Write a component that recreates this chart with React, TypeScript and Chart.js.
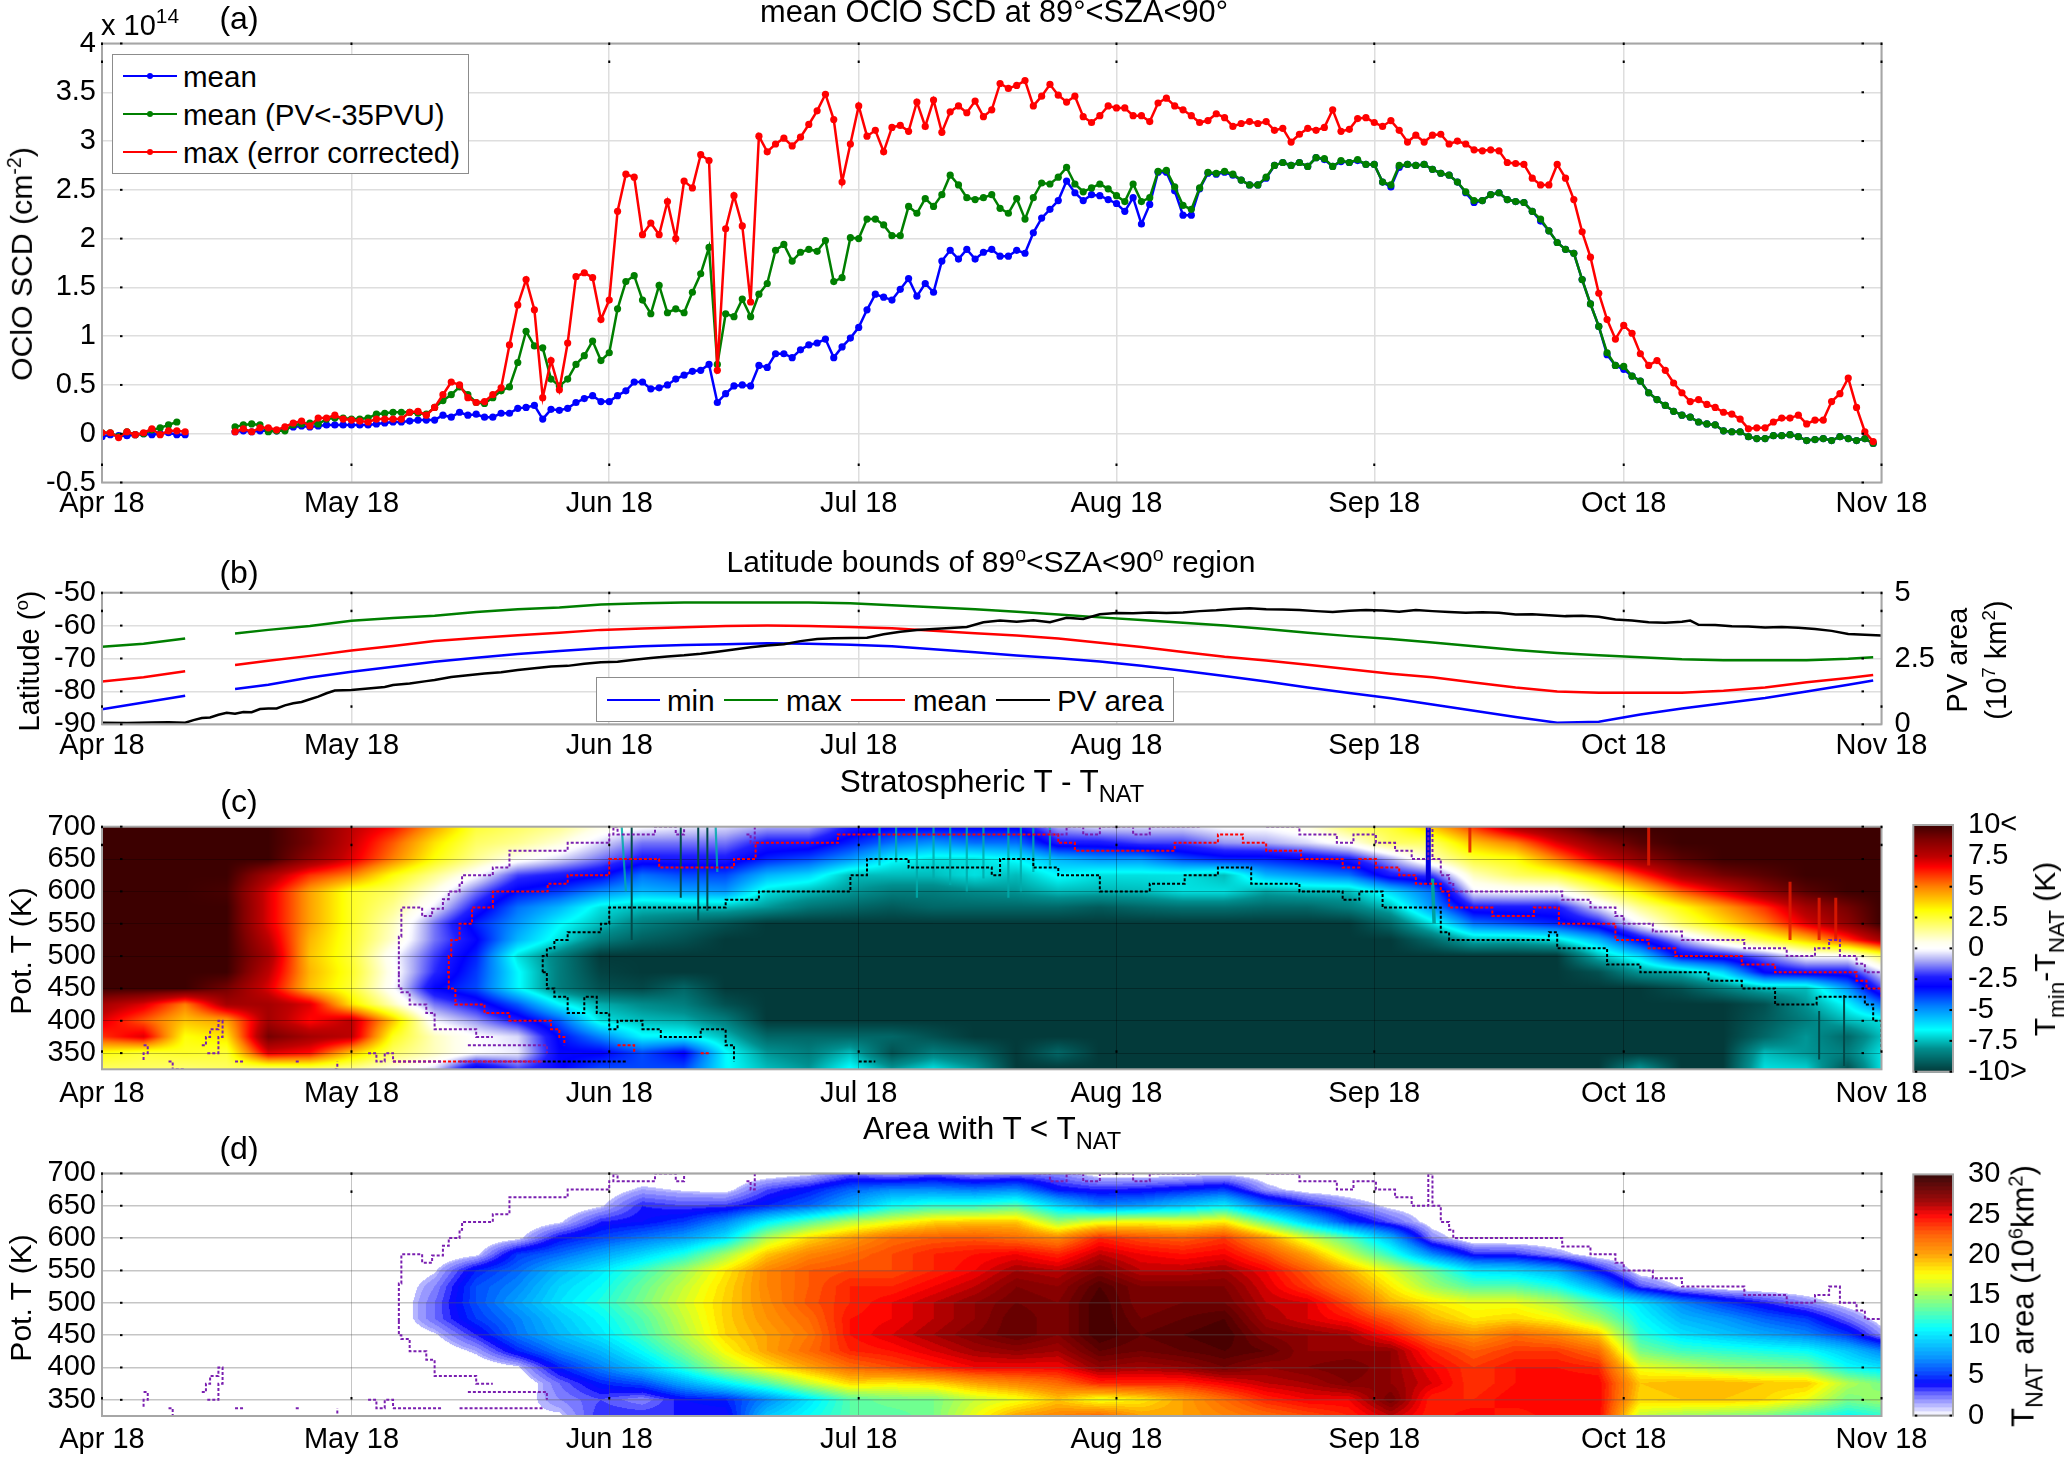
import React, { useEffect, useRef } from 'react';
import { Chart, registerables } from 'chart.js';
Chart.register(...registerables);

const FONT = '"Liberation Sans", Arial, sans-serif';
const N = null;

// ---------- shared axis labels
const monthDays = [0, 30, 61, 91, 122, 153, 183, 214];
const monthLabels = ['Apr 18', 'May 18', 'Jun 18', 'Jul 18', 'Aug 18', 'Sep 18', 'Oct 18', 'Nov 18'];
const thetaTicks = [350, 400, 450, 500, 550, 600, 650, 700];

// ---------- panel (a): one value per day from Apr 18
const scdMean = [
  -.03, -.01, -.02, -.02, -.01, 0, -.01, 0, .01, -.01, -.01, N, N, N, N, N,
  .02, .03, .02, .03, .03, .03, .05, .07, .08, .07, .08, .09, .09, .09,
  .09, .09, .09, .10, .11, .12, .12, .13, .14, .14,
  .14, .19, .17, .22, .19, .20, .17, .17, .21, .21,
  .26, .27, .29, .15, .25, .24, .26, .32, .36, .39,
  .33, .33, .39, .44, .53, .53, .46, .47, .50, .56,
  .60, .64, .65, .71, .32, .41, .49, .50, .49, .70,
  .68, .82, .82, .78, .86, .91, .93, .97, .78, .89,
  .98, 1.09, 1.27, 1.43, 1.40, 1.37, 1.48, 1.59, 1.41, 1.54,
  1.45, 1.77, 1.88, 1.79, 1.89, 1.79, 1.86, 1.89, 1.82, 1.82,
  1.88, 1.85, 2.06, 2.21, 2.30, 2.39, 2.59, 2.47, 2.39, 2.45,
  2.44, 2.40, 2.36, 2.28, 2.42, 2.15, 2.35, 2.68, 2.68, 2.49,
  2.24, 2.24, 2.51, 2.67, 2.66, 2.68, 2.65, 2.60, 2.55, 2.55,
  2.62, 2.75, 2.78, 2.75, 2.78, 2.74, 2.83, 2.81, 2.74, 2.79,
  2.78, 2.80, 2.76, 2.76, 2.58, 2.53, 2.73, 2.76, 2.75, 2.76,
  2.71, 2.67, 2.65, 2.58, 2.47, 2.37, 2.39, 2.45, 2.47, 2.40,
  2.38, 2.37, 2.28, 2.18, 2.08, 1.96, 1.89, 1.85, 1.58, 1.33,
  1.10, .81, .70, .66, .59, .54, .42, .35, .29, .23,
  .19, .17, .12, .10, .09, .03, .02, .02, -.03, -.05,
  -.05, -.02, -.02, -.01, -.03, -.07, -.06, -.05, -.07, -.03,
  -.05, -.07, -.05, -.10,
];
const scdMeanPv = [
  .01, .01, -.03, .02, -.01, 0, .04, .06, .09, .12, N, N, N, N, N, N,
  .07, .09, .10, .09, .02, .03, .03, .09, .10, .11, .10, .15, .16, .16,
  .15, .15, .16, .20, .21, .22, .22, .22, .21, .20,
  .27, .34, .40, .48, .40, .32, .31, .37, .44, .48,
  .73, 1.05, .90, .88, .56, .49, .56, .71, .80, .95,
  .75, .83, 1.28, 1.56, 1.62, 1.37, 1.23, 1.52, 1.24, 1.28,
  1.24, 1.45, 1.64, 1.91, .71, 1.23, 1.20, 1.38, 1.20, 1.43,
  1.54, 1.88, 1.94, 1.77, 1.86, 1.89, 1.87, 1.98, 1.56, 1.60,
  2.01, 2.00, 2.20, 2.20, 2.14, 2.03, 2.03, 2.33, 2.26, 2.41,
  2.33, 2.45, 2.65, 2.55, 2.42, 2.40, 2.42, 2.45, 2.31, 2.26,
  2.41, 2.20, 2.42, 2.57, 2.56, 2.63, 2.73, 2.56, 2.48, 2.52,
  2.56, 2.51, 2.44, 2.38, 2.56, 2.38, 2.42, 2.69, 2.70, 2.53,
  2.34, 2.30, 2.52, 2.68, 2.67, 2.69, 2.66, 2.60, 2.55, 2.55,
  2.63, 2.75, 2.78, 2.75, 2.78, 2.74, 2.83, 2.82, 2.74, 2.80,
  2.78, 2.81, 2.76, 2.76, 2.58, 2.55, 2.75, 2.76, 2.75, 2.76,
  2.71, 2.67, 2.65, 2.58, 2.48, 2.39, 2.39, 2.45, 2.47, 2.40,
  2.38, 2.37, 2.28, 2.20, 2.08, 1.96, 1.89, 1.85, 1.58, 1.33,
  1.10, .83, .70, .69, .59, .54, .42, .35, .29, .23,
  .19, .17, .12, .10, .09, .03, .02, .02, -.03, -.05,
  -.05, -.02, -.02, -.01, -.03, -.07, -.06, -.05, -.07, -.03,
  -.05, -.07, -.05, -.10,
];
const scdMax = [
  .01, .01, -.04, .02, -.01, .01, .05, -.01, .03, .03, .02, N, N, N, N, N,
  .02, .05, .02, .06, .06, .04, .07, .11, .13, .08, .16, .16, .19, .15,
  .14, .13, .12, .15, .15, .15, .15, .22, .23, .19,
  .27, .40, .53, .50, .37, .32, .33, .40, .47, .91,
  1.32, 1.58, 1.27, .37, .75, .45, .93, 1.61, 1.65, 1.60,
  1.17, 1.37, 2.28, 2.66, 2.63, 2.04, 2.16, 2.04, 2.38, 2.0,
  2.59, 2.52, 2.86, 2.80, .65, 2.10, 2.44, 2.13, 1.35, 3.05,
  2.89, 2.97, 3.03, 2.95, 3.04, 3.17, 3.31, 3.48, 3.22, 2.58,
  2.97, 3.36, 3.05, 3.11, 2.89, 3.14, 3.16, 3.10, 3.40, 3.15,
  3.42, 3.09, 3.30, 3.36, 3.29, 3.41, 3.25, 3.32, 3.59, 3.54,
  3.57, 3.62, 3.36, 3.46, 3.58, 3.47, 3.40, 3.46, 3.25, 3.19,
  3.26, 3.36, 3.34, 3.34, 3.26, 3.26, 3.20, 3.39, 3.44, 3.36,
  3.32, 3.26, 3.19, 3.21, 3.28, 3.24, 3.15, 3.18, 3.20, 3.18,
  3.20, 3.11, 3.13, 2.99, 3.07, 3.13, 3.11, 3.14, 3.32, 3.10,
  3.12, 3.23, 3.24, 3.19, 3.15, 3.21, 3.11, 2.99, 3.06, 2.99,
  3.06, 3.07, 2.97, 3.00, 2.97, 2.91, 2.90, 2.91, 2.90, 2.78,
  2.77, 2.76, 2.62, 2.55, 2.55, 2.76, 2.62, 2.40, 2.07, 1.81,
  1.44, 1.17, .97, 1.11, 1.03, .82, .70, .75, .65, .52,
  .42, .33, .35, .30, .27, .22, .20, .15, .05, .06,
  .06, .12, .16, .16, .19, .10, .14, .14, .33, .41,
  .57, .27, .02, -.08,
];

// ---------- panel (b)
const latDays = [0, 5, 10, 13, 16, 20, 25, 30, 35, 40, 45, 50, 55, 60, 65, 70, 75, 80, 85, 90, 95, 100, 105, 110, 115, 120, 125, 130, 135, 140, 145, 150, 155, 160, 165, 170, 175, 180, 185, 190, 195, 200, 205, 210, 213];
const latMin = [-85.4, -83.4, -81.3, N, -79.3, -78, -75.8, -74, -72.5, -71, -69.8, -68.6, -67.7, -66.9, -66.3, -65.9, -65.7, -65.4, -65.5, -65.8, -66.3, -67.2, -68.1, -69.1, -69.9, -70.9, -72.2, -73.7, -75.3, -77, -78.8, -80.5, -82.1, -84, -85.9, -87.8, -89.5, -89.2, -87, -85.2, -83.6, -82, -80, -78, -76.7];
const latMax = [-66.4, -65.5, -63.9, N, -62.4, -61.3, -60.1, -58.5, -57.7, -57, -55.9, -55, -54.5, -53.6, -53.2, -53, -53, -53, -53, -53.2, -53.8, -54.4, -55, -55.8, -56.6, -57.5, -58.3, -59.1, -60, -61, -62.2, -63.2, -64.1, -65.1, -66.3, -67.4, -68.3, -69, -69.6, -70.2, -70.5, -70.5, -70.5, -70.1, -69.6];
const latMean = [-77, -75.7, -73.9, N, -72, -70.7, -69.2, -67.6, -66.2, -64.7, -63.8, -62.9, -62.2, -61.3, -60.9, -60.5, -60.1, -60, -60.1, -60.4, -60.8, -61.6, -62.3, -63, -63.9, -65.2, -66.5, -68, -69.5, -70.6, -71.9, -73.3, -74.6, -75.7, -77.3, -78.8, -80, -80.4, -80.4, -80.4, -79.8, -78.8, -77.2, -75.9, -75];
const pvDays = [0, 3, 6, 8, 10, 11, 12, 13, 14, 15, 16, 17, 18, 19, 20, 21, 22, 23, 24, 25, 26, 27, 28, 30, 32, 34, 35, 37, 39, 40, 42, 44, 46, 48, 50, 52, 54, 56, 58, 60, 62, 64, 66, 68, 70, 72, 74, 76, 78, 80, 82, 84, 86, 88, 90, 92, 94, 96, 98, 100, 102, 104, 106, 108, 110, 112, 114, 116, 118, 120, 122, 124, 126, 128, 130, 132, 134, 136, 138, 140, 142, 144, 146, 148, 150, 152, 154, 156, 158, 160, 162, 164, 166, 168, 170, 172, 174, 176, 178, 180, 182, 184, 186, 188, 190, 191, 192, 194, 196, 198, 200, 202, 204, 206, 208, 210, 212, 214];
const pvArea = [.06, .05, .07, .08, .06, .16, .24, .26, .36, .44, .40, .47, .46, .58, .60, .60, .72, .8, .85, .95, 1.05, 1.18, 1.28, 1.30, 1.36, 1.42, 1.49, 1.55, 1.64, 1.68, 1.80, 1.86, 1.93, 1.98, 2.06, 2.13, 2.2, 2.22, 2.3, 2.36, 2.38, 2.45, 2.52, 2.58, 2.62, 2.68, 2.76, 2.84, 2.93, 2.99, 3.04, 3.16, 3.24, 3.27, 3.28, 3.29, 3.42, 3.52, 3.58, 3.62, 3.66, 3.70, 3.88, 3.94, 3.9, 3.95, 3.88, 4.05, 4.0, 4.18, 4.23, 4.22, 4.25, 4.23, 4.25, 4.3, 4.33, 4.38, 4.41, 4.37, 4.36, 4.34, 4.3, 4.27, 4.31, 4.34, 4.32, 4.28, 4.34, 4.3, 4.27, 4.24, 4.26, 4.24, 4.17, 4.18, 4.14, 4.11, 4.12, 4.09, 3.98, 3.94, 3.88, 3.86, 3.9, 3.94, 3.78, 3.77, 3.73, 3.72, 3.68, 3.7, 3.67, 3.62, 3.55, 3.43, 3.4, 3.37];

// ---------- panels (c) and (d): grid values, one row per potential temperature
const gridDays = [0, 5, 10, 15, 20, 25, 30, 35, 40, 45, 50, 55, 60, 65, 70, 75, 80, 85, 90, 95, 100, 105, 110, 115, 120, 125, 130, 135, 140, 145, 150, 155, 160, 165, 170, 175, 180, 185, 190, 195, 200, 205, 210, 214];
const gridTheta = [325, 350, 375, 400, 425, 450, 475, 500, 525, 550, 575, 600, 625, 650, 675, 700];

const t700 = [10, 10, 10, 10, 10, 9, 7.5, 6.5, 4.5, 2.5, 2, 1.5, .5, 0, -.3, -.5, -1, -1, -2.5, -3, -3, -3, -3, -1, -.5, -.5, -.5, 0, 0, .5, 2, 2.5, 4, 6, 8, 9, 10, 10, 10, 10, 10, 10, 10, 10];
const t675 = [10, 10, 10, 10, 10, 9, 7.3, 5.5, 3.5, 2, 1.5, .7, -.5, -1.5, -1.5, -1.5, -2.5, -2.5, -3.5, -4.5, -5, -4.5, -4.5, -2.5, -2.5, -2, -2, -1.2, -1, -.5, .3, 2, 2, 4, 5, 7, 8.5, 9.5, 10, 10, 10, 10, 10, 10];
const t650 = [10, 10, 10, 10, 10, 8.5, 7, 5, 3, 1.5, .3, -.5, -1.5, -2.5, -2.5, -2.5, -3.5, -4, -5, -6.5, -7, -7, -6.5, -5.5, -5, -5, -4, -3.5, -3.5, -3, -2.5, -1, 1, 2.5, 3, 5, 7, 8.5, 9.5, 10, 10, 10, 10, 10];
const t625 = [10, 10, 10, 10, 8, 6, 5, 3, 1.5, 0, -2, -2.5, -3, -4.5, -4, -4, -5.5, -6, -7.5, -7.5, -7.5, -7, -7.5, -6.5, -7, -7, -7, -7.5, -5.5, -5, -4.5, -2.5, -2, 1, 2, 2.5, 4, 6, 8, 9, 9.5, 10, 10, 10];
const t600 = [10, 10, 10, 9.8, 7, 4.5, 2.7, 2, .5, -1.5, -3.2, -3.8, -4.8, -5.5, -5.2, -5, -7, -7.5, -8, -8.5, -8.5, -8.2, -8, -7.5, -7.6, -7.5, -7, -7, -7.8, -7.5, -7.5, -6, -4.5, -.2, 0, 0, 1.8, 3.5, 5.5, 7, 8.5, 9.5, 10, 10];
const t575 = [10, 10, 10, 10, 7, 4.5, 2.7, 1.5, -.3, -2.5, -4.5, -5.5, -7, -7.5, -7.5, -7.5, -8, -8.7, -9, -9.3, -9, -9, -9, -9, -9.3, -9, -8.8, -8.8, -9, -9, -8.5, -7.5, -5, -2.5, -2.5, -2.5, -.5, 1.5, 3, 4.5, 6, 8, 9, 10];
const t550 = [10, 10, 10, 10, 7, 4.5, 2.7, 1, -1.5, -3.5, -5, -6.5, -7.5, -8.5, -9, -9.5, -10, -10, -10, -10, -10, -10, -10, -10, -10, -10, -10, -10, -10, -10, -10, -9, -7, -4.5, -4, -3.5, -2.5, 0, 2, 3.5, 5, 7, 8.5, 10];
const t525 = [10, 10, 10, 10, 7.5, 4.2, 2.6, .8, -1.5, -3, -5.5, -7, -8.5, -9.2, -9.5, -10, -10, -10, -10, -10, -10, -10, -10, -10, -10, -10, -10, -10, -10, -10, -10, -10, -9, -7.5, -7.5, -7, -5.5, -3, -1, 1, 2.5, 4, 6, 8];
const t500 = [10, 10, 10, 10, 8, 4, 2.5, 0, -2, -3.5, -7, -8.5, -10, -10, -10, -10, -10, -10, -10, -10, -10, -10, -10, -10, -10, -10, -10, -10, -10, -10, -10, -10, -10, -10, -10, -10, -7.5, -6, -3, -2.5, -1.5, 0, 0, 2];
const t475 = [10, 10, 10, 10, 7.5, 4.2, 2.7, .2, -2.2, -3.8, -6.5, -8.5, -9.8, -10, -10, -10, -10, -10, -10, -10, -10, -10, -10, -10, -10, -10, -10, -10, -10, -10, -10, -10, -10, -10, -10, -10, -9.5, -8, -7.5, -6, -3, -2.5, -2.5, -.5];
const t450 = [10, 10, 10, 9, 7, 4, 2.5, 0, -3, -4, -6.5, -8.5, -9.5, -9.7, -9, -10, -10, -10, -10, -10, -10, -10, -10, -10, -10, -10, -10, -10, -10, -10, -10, -10, -10, -10, -10, -10, -10, -10, -9.5, -8.5, -7.5, -7.5, -5, -2];
const t425 = [8, 7, 5, 8, 8, 7, 3.5, 1, -1.5, -2.5, -4.2, -6.5, -7.7, -8.2, -8.5, -9.5, -10, -10, -10, -10, -10, -10, -10, -10, -10, -10, -10, -10, -10, -10, -10, -10, -10, -10, -10, -10, -10, -10, -10, -10, -9.5, -8, -6.5, -4.5];
const t400 = [7, 5.5, 4, 4.5, 8, 6.5, 7.5, 4, -.2, -1.2, -2.5, -4.2, -7, -7.5, -7.7, -8.5, -10, -10, -10, -10, -10, -10, -10, -10, -10, -10, -10, -10, -10, -10, -10, -10, -10, -10, -10, -10, -10, -10, -10, -10, -9.3, -8.5, -7.5, -7];
const t375 = [6, 7, 3, 3.5, 9, 8, 7.5, 2.8, 1, 0, -.5, -3.2, -4.8, -6.5, -6.5, -7.5, -9, -9, -9, -9, -9.5, -10, -10, -10, -10, -10, -10, -10, -10, -10, -10, -10, -10, -10, -10, -10, -10, -10, -10, -10, -9, -8, -9, -7.5];
const t350 = [3, 2.5, 2.7, 2.5, 7, 6.5, 4, 2, 1, 0, -.3, -3, -3, -4, -3, -6.5, -8, -8.5, -7.5, -9.5, -8.5, -9, -10, -9, -10, -10, -10, -10, -10, -10, -10, -10, -10, -10, -10, -10, -10, -10, -10, -10, -7.5, -8, -8.5, -7];
const t325 = [2, 2, 1.8, 2, 1.8, 2, 1.5, .5, -.5, -3.5, -2, -3, -4, -4, -4, -6.5, -7.5, -8, -6.5, -8, -7, -8, -10, -10, -10, -10, -10, -10, -10, -10, -10, -10, -10, -10, -10, -10, -10, -8, -10, -10, -7, -7.2, -9.5, -7];
const tempRows = [t325, t350, t375, t400, t425, t450, t475, t500, t525, t550, t575, t600, t625, t650, t675, t700];

const a700 = [0, 0, 0, 0, 0, 0, 0, 0, 0, 0, 0, 0, 0, 0, 0, 0, .3, .8, 2.5, 1.5, 2.5, 1.5, 2, 2, .5, .4, .5, .8, .3, 0, 0, 0, 0, 0, 0, 0, 0, 0, 0, 0, 0, 0, 0, 0];
const a675 = [0, 0, 0, 0, 0, 0, 0, 0, 0, 0, 0, 0, .2, 1.5, 1, .7, 3, 4.2, 6, 7, 7, 6.5, 7, 4, 3.5, 3.7, 4.3, 5, 1.7, .5, .2, 0, 0, 0, 0, 0, 0, 0, 0, 0, 0, 0, 0, 0];
const a650 = [0, 0, 0, 0, 0, 0, 0, 0, 0, 0, 0, 0, 1, 3.5, 3, 3.2, 4.5, 6, 8.3, 11, 12, 12, 13, 9.5, 7, 7.5, 9, 10.5, 6.5, 4, 2.2, .8, .3, 0, 0, 0, 0, 0, 0, 0, 0, 0, 0, 0];
const a625 = [0, 0, 0, 0, 0, 0, 0, 0, 0, 0, 0, 1, 3.5, 4, 5, 7, 10.5, 13, 15.5, 17, 18.5, 19, 19, 15, 17, 17.5, 17, 18, 13.5, 9, 5, 2.8, .5, 0, 0, 0, 0, 0, 0, 0, 0, 0, 0, 0];
const a600 = [0, 0, 0, 0, 0, 0, 0, 0, 0, 0, .8, 4, 5.3, 6.5, 7.7, 10, 15.5, 18.5, 20.3, 22, 22.5, 22.7, 22, 21, 24, 23, 22.5, 23.5, 20.5, 16.5, 13, 8.5, 2, 0, 0, 0, 0, 0, 0, 0, 0, 0, 0, 0];
const a575 = [0, 0, 0, 0, 0, 0, 0, 0, 0, .8, 5, 6.2, 7.8, 9.5, 11.5, 15, 19, 21, 22, 23, 24, 24.5, 25, 24, 26, 25, 24.5, 25, 23, 20, 16, 12, 7, 3.5, 3.3, 1.8, .3, 0, 0, 0, 0, 0, 0, 0];
const a550 = [0, 0, 0, 0, 0, 0, 0, 0, 1, 4.5, 6.2, 8.5, 10.2, 12.5, 15, 18, 21, 22.5, 23, 23, 24, 25, 26.5, 26, 27.5, 26, 26, 26.5, 25, 22.5, 19.5, 16.5, 13.5, 10, 9.5, 8, 4, .3, 0, 0, 0, 0, 0, 0];
const a525 = [0, 0, 0, 0, 0, 0, 0, 0, 2, 5.5, 7, 9.5, 11, 13.5, 16, 18.5, 21, 22.5, 24, 24, 25, 26, 27.5, 27, 29, 27.5, 27.5, 27.5, 25.5, 23.5, 21, 18, 15, 13, 13, 11.5, 8, 3, 1, .3, 0, 0, 0, 0];
const a500 = [0, 0, 0, 0, 0, 0, 0, 0, 2.5, 5.5, 7.8, 10, 11.7, 14, 16.5, 18.7, 20.8, 22.7, 24, 25, 26, 27, 28, 27.5, 29.5, 27.5, 28, 28, 26, 25.5, 23, 19.5, 18, 17, 17, 15.5, 12.5, 10, 7, 5, 3.5, 2, .5, 0];
const a475 = [0, 0, 0, 0, 0, 0, 0, 0, 2.5, 5, 6.8, 9, 10.8, 13, 16, 18.7, 20.5, 22, 24.5, 25, 26, 27, 28.5, 27.5, 29.5, 28, 28.5, 29, 26.5, 25.5, 24.5, 22.5, 19.5, 18, 18.5, 17.5, 15, 11, 8.5, 7.5, 6, 5, 2.5, .5];
const a450 = [0, 0, 0, 0, 0, 0, 0, 0, 1, 3.5, 6.5, 8.5, 10.2, 12.5, 15.5, 18.5, 20, 21.5, 24.5, 25.5, 26.5, 27.5, 28.5, 27.5, 29.5, 28.5, 29, 29.5, 27.5, 27, 26.5, 24.5, 22, 20.5, 22, 21, 19, 12, 10, 9, 8, 7, 5, 2];
const a425 = [0, 0, 0, 0, 0, 0, 0, 0, 0, 1.5, 4.5, 6.8, 8.5, 11, 14, 17.5, 20, 22, 24, 24.5, 25.5, 26.5, 27, 26.5, 28.5, 28, 28.5, 29, 28.5, 27, 27, 27, 24, 22.5, 23.5, 23.5, 22, 14, 12.5, 12, 11.5, 11, 9, 7];
const a400 = [0, 0, 0, 0, 0, 0, 0, 0, 0, 0, 1, 4.5, 6.8, 9, 12, 15.5, 18, 20, 22, 23, 24, 25, 25, 25, 27, 26.5, 27, 28, 27, 27.5, 28, 27, 25, 23.5, 24.5, 24.5, 24, 17, 16, 15, 14.5, 14, 11, 10];
const a375 = [0, 0, 0, 0, 0, 0, 0, 0, 0, 0, 0, 2.5, 4.5, 5.5, 8, 10.5, 13, 16, 18.5, 18, 18.5, 20, 21, 22, 24, 24, 24, 25, 26, 26.5, 27.5, 27, 25.5, 23.5, 24.5, 25, 25, 19, 19.5, 19.5, 19, 19, 15.5, 14];
const a350 = [0, 0, 0, 0, 0, 0, 0, 0, 0, .3, .5, 2, 3, 2, 4, 4.5, 7, 10, 13, 14, 14, 16, 17, 19, 17, 18, 20, 22, 24, 25, 25, 28, 24, 24, 25, 25, 25, 18.5, 19, 19, 18.5, 17, 14, 15];
const a325 = [0, 0, 0, 0, 0, 0, 0, 0, 0, 1, 1, 1, 3.5, 3.5, 3.5, 3.5, 9, 11, 13, 13, 14, 17, 20, 21, 22, 20, 20, 21, 22, 23, 24, 26, 24, 25, 24, 25, 25, 16, 15, 14.5, 14, 12.5, 11, 12];
const areaRows = [a325, a350, a375, a400, a425, a450, a475, a500, a525, a550, a575, a600, a625, a650, a675, a700];

// contour traces, [day, potential temperature]; [day, null] breaks the trace
const purpleTrace = [
  [35.7, 472], [35.7, 500], [35.7, 530], [36, 550], [36, 575], [38.5, 562], [39.7, 573], [41, 588], [41.7, 600], [43, 613], [43.3, 625], [47, 625], [47, 637], [49, 663], [53.5, 663], [56, 675], [60, 675], [61, 688], [61.5, 700], [62, 688], [66, 688], [66.5, 700], [69, 688], [70, 700], [71, N],
  [77.5, 688], [78, 675], [78.5, 700], [79, N],
  [112, 700], [114, 688], [116, 700], [118, 688], [120, 700], [124, 688], [126, 700], [132, 700], [133, N],
  [140, 700], [143, 700], [144, 688], [148, 688], [148.5, 675], [150, 675], [150.5, 688], [153, 688], [153.2, 675], [155.5, 663], [157.5, 650], [159.5, 700], [160, 650], [161, 625], [162, 613], [162.5, 600], [175, 600], [175.6, 587], [178, 587], [179, 575], [182, 562], [183, 550], [186, 550], [186.5, 538], [189.5, 538], [190, 525], [196, 525], [197.5, 512], [200.8, 512], [202.6, 500], [205.5, 500], [206, 512], [207.7, 525], [209, 500], [211, 488], [212, 475], [214, 475],
];
const purpleLower = [
  [35.7, 472], [35.7, 450], [36, 444], [37, 425], [39, 412], [40, 387], [44, 387], [45, 375], [47, 375], [48, N],
  [44, 362], [53, 362], [53.5, 350], [54, N],
  [35, 337], [41, 337], [41, N], [43, 337], [53, 337], [53.5, N],
  [32, 350], [33, 337], [34, 350], [35, 337], [35.2, N],
];
const purpleStray = [
  [5, 362], [5.5, 350], [5, 337], [5.2, N], [8, 337], [8.5, 325], [10, 325], [10.2, N],
  [12, 362], [12.5, 375], [13, 387], [14, 400], [14.5, 375], [14, 350], [12.5, 350], [12.6, N],
  [16, 337], [17, 337], [17.1, N], [23.3, 337], [23.8, 337], [24, N], [28, 325], [28.3, 337], [28.4, N],
];
const redUpper = [
  [41.5, 475], [41.7, 500], [42, 525], [43, 550], [44.5, 575], [47, 575], [47, 600], [52.4, 600], [53.6, 612], [56, 625], [60, 625], [61, 650], [67, 650], [67, 637], [74, 637], [76, 650], [77.5, 650], [78.6, 675], [87.7, 675], [88.5, 688], [112, 688], [115, 675], [117, 663], [128, 663], [129, 675], [134, 675], [134.2, 688], [137, 688], [137.2, 675], [139, 675], [140, 663], [144, 663], [144.2, 650], [149, 650], [149.2, 637], [151, 637], [151.2, 650], [153, 650], [153.2, 637], [155, 637], [156, 625], [157.5, 625], [158, 612], [159, 612], [161, 600], [162, 575], [167, 575], [167.2, 562], [172, 562], [172.2, 575], [175, 575], [175.2, 550], [180, 550], [182, 525], [185, 525], [186, 512], [189, 512], [189.2, 500], [197, 500], [197.2, 487], [201, 487], [201.2, 475], [210, 475], [211, 462], [212, 462], [212.2, 450], [213, 450], [214, 437],
];
const redLower = [
  [41.5, 475], [41.7, 450], [42.5, 425], [46, 412], [49, 400], [53.5, 400], [54, 387], [55, 375], [55.6, 362], [56, N],
  [35, 337], [53, 337], [53.2, N], [62, 362], [64, 350], [64.2, N], [72, 350], [73, 350], [73.2, N],
];
const blackUpper = [
  [53, 475], [53, 500], [53.5, 512], [54.4, 525], [56, 537], [59.5, 537], [60, 550], [61, 575], [72, 575], [75, 587], [78, 587], [79, 600], [88.5, 600], [90, 625], [92, 650], [96, 650], [97, 637], [107, 625], [108, 650], [112, 637], [115, 625], [118, 625], [120, 600], [125, 600], [126, 612], [130, 612], [130.2, 625], [134, 625], [134.2, 637], [138, 637], [138.2, 612], [143, 612], [144, 600], [149, 600], [149.2, 587], [151, 587], [151.2, 600], [153, 600], [154, 575], [159, 575], [161, 537], [162, 525], [173, 525], [174, 537], [175, 512], [180, 512], [181, 487], [184, 487], [185, 475], [193, 475], [193.2, 462], [197, 462], [197.2, 450], [201, 450], [201.2, 425], [206, 425], [206.2, 437], [211, 437], [212, 425], [213, 400], [214, 375], [214, 350],
];
const blackLower = [
  [53, 475], [53.5, 450], [54.4, 437], [56, 412], [58, 437], [59.5, 412], [61, 387], [62, 400], [64, 400], [65, 387], [67, 387], [67.2, 375], [71, 375], [72, 387], [74, 387], [75, 362], [76, 337], [76.2, N],
  [53, 337], [63, 337], [63.2, N], [91, 337], [93, 337], [93.2, N],
];
// narrow vertical features of panel (c), [day, potential temperature]
const spikesDark = [[63.7, 700], [63.7, 525], [63.8, N], [69.6, 700], [69.6, 590], [69.7, N], [71.7, 700], [71.7, 555], [71.8, N], [72.8, 700], [72.8, 570], [72.9, N], [206.5, 415], [206.5, 340], [206.6, N], [209.5, 440], [209.5, 330]];
const spikesCyan = [[62.5, 700], [63, 600], [63.1, N], [73.8, 700], [74, 630], [74.1, N], [93.5, 700], [93.5, 640], [93.6, N], [95.5, 700], [95.5, 645], [95.6, N], [98, 700], [98, 590], [98.1, N], [100, 700], [100, 620], [100.1, N], [102, 700], [102, 610], [102.1, N], [104, 700], [104, 600], [104.1, N], [106, 700], [106, 620], [106.1, N], [109, 700], [109, 590], [109.1, N], [110.5, 700], [110.5, 600], [110.6, N], [112, 700], [112, 630], [112.1, N], [114, 700], [114, 640], [114.1, N]];
const spikesBlue = [[159.5, 700], [159.5, 610]];
const spikesTeal = [[160, 620], [160.2, 550]];
const spikesRed = [[186, 700], [186, 640], [186.1, N], [164.5, 700], [164.5, 660], [164.6, N], [203, 615], [203, 525], [203.1, N], [206.5, 590], [206.5, 525], [206.6, N], [208.5, 590], [208.5, 525]];

const cmTemp = [[-10, 3, 58, 58], [-8.1, 0, 144, 144], [-6.6, 0, 255, 255], [-4.7, 0, 128, 255], [-3.1, 0, 0, 255], [-2.3, 32, 32, 255], [-1, 170, 170, 245], [-.2, 245, 245, 255], [0, 255, 255, 255], [.5, 255, 255, 235], [3.1, 255, 255, 0], [5, 255, 128, 0], [6.6, 255, 0, 0], [7.4, 192, 0, 0], [8.8, 128, 0, 0], [10, 60, 0, 0]];
const cmArea = [[0, 255, 255, 255], [2.7, 96, 96, 255], [3.9, 0, 0, 255], [5.2, 0, 64, 255], [7.2, 0, 144, 255], [10.9, 0, 255, 255], [12.5, 64, 255, 192], [15, 160, 255, 96], [17.5, 255, 255, 0], [20, 255, 160, 0], [22.4, 255, 96, 0], [24.9, 255, 0, 0], [26.5, 160, 0, 0], [30, 48, 0, 0]];

function colorAt(cm: number[][], v: number): number[] {
  if (v <= cm[0][0]) return cm[0].slice(1);
  for (let i = 1; i < cm.length; i++) {
    if (v <= cm[i][0]) {
      const f = (v - cm[i - 1][0]) / (cm[i][0] - cm[i - 1][0]);
      return [1, 2, 3].map((k) => cm[i - 1][k] + f * (cm[i][k] - cm[i - 1][k]));
    }
  }
  return cm[cm.length - 1].slice(1);
}
function bracket(a: number[], v: number): [number, number] {
  if (v <= a[0]) return [0, 0];
  for (let i = 1; i < a.length; i++) if (v <= a[i]) return [i - 1, (v - a[i - 1]) / (a[i] - a[i - 1])];
  return [a.length - 2, 1];
}

function heatPlugin(rows: number[][], cm: number[][], step: number, floor: number) {
  return {
    id: 'heat',
    beforeDraw(chart: any) {
      const { left, top, width, height } = chart.chartArea;
      const w = Math.round(width), h = Math.round(height);
      const off = document.createElement('canvas');
      off.width = w; off.height = h;
      const octx = off.getContext('2d')!;
      const img = octx.createImageData(w, h);
      const xs = chart.scales.x, ys = chart.scales.y;
      const colBr = Array.from({ length: w }, (_, i) => bracket(gridDays, xs.getValueForPixel(left + i + .5)));
      for (let j = 0; j < h; j++) {
        const [r, fr] = bracket(gridTheta, ys.getValueForPixel(top + j + .5));
        const r0 = rows[r], r1 = rows[r + 1];
        for (let i = 0; i < w; i++) {
          const [c, fc] = colBr[i];
          const a = r0[c] + fc * (r0[c + 1] - r0[c]);
          const b = r1[c] + fc * (r1[c + 1] - r1[c]);
          let v = a + fr * (b - a);
          if (step) v = v <= floor ? 0 : Math.ceil(v / step) * step - step / 2;
          const col = colorAt(cm, v);
          const o = (j * w + i) * 4;
          img.data[o] = col[0]; img.data[o + 1] = col[1]; img.data[o + 2] = col[2]; img.data[o + 3] = 255;
        }
      }
      octx.putImageData(img, 0, 0);
      chart.ctx.drawImage(off, left, top, width, height);
    },
  };
}

function barPlugin(cm: number[][], step: number) {
  return {
    id: 'colorbar',
    beforeDraw(chart: any) {
      const { left, top, width, height } = chart.chartArea;
      const ys = chart.scales.y;
      const ctx = chart.ctx;
      for (let j = 0; j < Math.ceil(height); j++) {
        let v = ys.getValueForPixel(top + j + .5);
        if (step) v = Math.ceil(v / step) * step - step / 2;
        const c = colorAt(cm, v);
        ctx.fillStyle = `rgb(${c[0]},${c[1]},${c[2]})`;
        ctx.fillRect(left, top + j, width, 1.5);
      }
    },
  };
}

function framePlugin(inset: number, xDots: boolean) {
  return {
    id: 'frame',
    afterDatasetsDraw(chart: any) {
      const { left, right, top, bottom } = chart.chartArea;
      const ctx = chart.ctx;
      ctx.save();
      ctx.strokeStyle = '#a6a6a6';
      ctx.lineWidth = 2;
      ctx.strokeRect(left, top, right - left, bottom - top);
      ctx.fillStyle = '#000';
      chart.scales.y.ticks.forEach((t: any) => {
        const p = chart.scales.y.getPixelForValue(t.value);
        if (p <= top + 1 && !xDots) return;
        ctx.fillRect(left + inset - 1, p - 1, 2.5, 2);
        ctx.fillRect(right - inset - 1, p - 1, 2.5, 2);
      });
      if (xDots) {
        chart.scales.x.ticks.forEach((t: any) => {
          const p = chart.scales.x.getPixelForValue(t.value);
          ctx.fillRect(p - 1, top - 1, 2, 2.5);
          ctx.fillRect(p - 1, top + inset - 2, 2, 2.5);
          ctx.fillRect(p - 1, bottom - inset, 2, 2.5);
        });
      }
      ctx.restore();
    },
  };
}

const PLOT_LEFT = 102, PLOT_RIGHT = 1881.5;
const tickFont = { family: FONT, size: 29 };

function xAxis(h: number, pad: number, grid: string, gw: number) {
  return {
    type: 'linear', min: 0, max: 214,
    afterBuildTicks(ax: any) { ax.ticks = monthDays.map((value) => ({ value })); },
    afterFit(ax: any) { ax.height = h; },
    grid: { color: grid, lineWidth: gw, drawTicks: false },
    border: { display: false },
    ticks: {
      font: tickFont, color: '#000', padding: pad, maxRotation: 0, autoSkip: false,
      callback: (v: number) => monthLabels[monthDays.indexOf(v)],
    },
  };
}
function thetaAxis(grid: string, gw: number) {
  return {
    type: 'linear', min: 325, max: 700,
    afterBuildTicks(ax: any) { ax.ticks = thetaTicks.map((value) => ({ value })); },
    afterFit(ax: any) { ax.width = PLOT_LEFT; },
    grid: { color: grid, lineWidth: gw, drawTicks: false },
    border: { display: false },
    ticks: { font: tickFont, color: '#000', padding: 6, autoSkip: false, callback: (v: number) => String(v) },
  };
}
const base = (pad: any) => ({
  responsive: false, animation: false as const, devicePixelRatio: 1,
  layout: { padding: pad },
  plugins: { legend: { display: false }, tooltip: { enabled: false }, title: { display: false } },
  elements: { line: { tension: 0 } },
});
const pairs = (tr: (number | null)[][]) => tr.map(([x, y]) => ({ x, y }));
const trace = (tr: any, color: string, w = 2, order = 1) => ({
  data: pairs(tr), borderColor: color, backgroundColor: color, borderWidth: w, borderDash: [3, 2], pointRadius: 0, stepped: true, spanGaps: false, order,
});
const spike = (tr: any, color: string, w: number) => ({
  data: pairs(tr), borderColor: color, borderWidth: w, pointRadius: 0, spanGaps: false, order: 5,
});

function App() {
  const aRef = useRef<HTMLCanvasElement>(null);
  const bRef = useRef<HTMLCanvasElement>(null);
  const cRef = useRef<HTMLCanvasElement>(null);
  const dRef = useRef<HTMLCanvasElement>(null);
  const cbRef = useRef<HTMLCanvasElement>(null);
  const dbRef = useRef<HTMLCanvasElement>(null);

  useEffect(() => {
    document.body.style.margin = '0';
    document.documentElement.style.overflow = 'hidden';
    const right = 2067 - PLOT_RIGHT;
    const daily = (arr: (number | null)[]) => arr.map((y, x) => ({ x, y }));
    const series = (d: any[], color: string, order: number) => ({
      data: d, borderColor: color, backgroundColor: color, borderWidth: 2.5, pointRadius: 3.6, pointBorderWidth: 0, order, spanGaps: false,
    });
    const charts: Chart[] = [];

    charts.push(new Chart(aRef.current!, {
      type: 'line',
      data: { datasets: [series(daily(scdMax), '#ff0000', 1), series(daily(scdMeanPv), '#007f00', 2), series(daily(scdMean), '#0000ff', 3)] },
      options: {
        ...base({ top: 43.5, right }),
        scales: {
          x: xAxis(42.5, 4, '#dedede', 1.5),
          y: {
            type: 'linear', min: -0.5, max: 4,
            afterFit(ax: any) { ax.width = PLOT_LEFT; },
            grid: { color: '#dedede', lineWidth: 1.5, drawTicks: false }, border: { display: false },
            ticks: { stepSize: .5, autoSkip: false, font: tickFont, color: '#000', padding: 6, callback: (v: number) => String(v) },
          },
        },
      } as any,
      plugins: [framePlugin(19, true)],
    } as any));

    const lat = (v: (number | null)[], color: string, order: number) => ({
      data: v.map((y, i) => ({ x: latDays[i], y })), borderColor: color, borderWidth: 2.5, pointRadius: 0, order, spanGaps: false,
    });
    charts.push(new Chart(bRef.current!, {
      type: 'line',
      data: {
        datasets: [
          lat(latMin, '#0000ff', 4), lat(latMax, '#007f00', 3), lat(latMean, '#ff0000', 2),
          { data: pvArea.map((y, i) => ({ x: pvDays[i], y })), yAxisID: 'y2', borderColor: '#000', borderWidth: 2.5, pointRadius: 0, order: 1 },
        ],
      },
      options: {
        ...base({ top: 52.7, right: right - 100 }),
        scales: {
          x: xAxis(45.7, 4, '#dedede', 1.5),
          y: {
            type: 'linear', min: -90, max: -50,
            afterFit(ax: any) { ax.width = PLOT_LEFT; },
            grid: { color: '#dedede', lineWidth: 1.5, drawTicks: false }, border: { display: false },
            ticks: { stepSize: 10, autoSkip: false, font: tickFont, color: '#000', padding: 6, callback: (v: number) => String(v) },
          },
          y2: {
            type: 'linear', position: 'right', min: 0, max: 5,
            afterBuildTicks(ax: any) { ax.ticks = [0, 2.5, 5].map((value) => ({ value })); },
            afterFit(ax: any) { ax.width = 100; },
            grid: { display: false }, border: { display: false },
            ticks: { autoSkip: false, font: tickFont, color: '#000', padding: 5, callback: (v: number) => String(v) },
          },
        },
      } as any,
      plugins: [framePlugin(19, true)],
    } as any));

    charts.push(new Chart(cRef.current!, {
      type: 'line',
      data: {
        datasets: [
          trace(purpleTrace, '#7a1fb0'), trace(purpleLower, '#7a1fb0'), trace(purpleStray, '#7a1fb0'),
          trace(redUpper, '#ff0000'), trace(redLower, '#ff0000'),
          trace(blackUpper, '#000'), trace(blackLower, '#000'),
          spike(spikesCyan, 'rgba(0,170,170,.85)', 2.2), spike(spikesDark, '#034a4a', 2),
          spike(spikesBlue, '#0000e0', 5), spike(spikesTeal, '#00a0a0', 3.5), spike(spikesRed, 'rgba(225,25,0,.85)', 3),
        ],
      },
      options: {
        ...base({ top: 26.7, right }),
        scales: { x: xAxis(50.7, 7, 'rgba(0,0,0,.28)', 1), y: thetaAxis('rgba(0,0,0,.28)', 1) },
      } as any,
      plugins: [heatPlugin(tempRows, cmTemp, 0, 0), framePlugin(19, true)],
    } as any));

    charts.push(new Chart(dRef.current!, {
      type: 'line',
      data: { datasets: [trace(purpleTrace, '#7a1fb0'), trace(purpleLower, '#7a1fb0'), trace(purpleStray, '#7a1fb0')] },
      options: {
        ...base({ top: 23.3, right }),
        scales: { x: xAxis(41, 7, 'rgba(90,90,90,.35)', 1), y: thetaAxis('rgba(90,90,90,.35)', 1.5) },
      } as any,
      plugins: [heatPlugin(areaRows, cmArea, .5, 1.2), framePlugin(19, true)],
    } as any));

    const bar = (el: HTMLCanvasElement, min: number, max: number, step: number, label: (v: number) => string, cm: number[][], q: number, top: number, bot: number) =>
      new Chart(el, {
        type: 'scatter',
        data: { datasets: [{ data: [] }] },
        options: {
          ...base({ left: 13.3, top, right: 167 - 13.3 - 39.7 - 110, bottom: bot }),
          scales: {
            x: { display: false, min: 0, max: 1 },
            y: {
              type: 'linear', position: 'right', min, max,
              afterFit(ax: any) { ax.width = 110; },
              grid: { display: false }, border: { display: false },
              ticks: { stepSize: step, autoSkip: false, font: tickFont, color: '#000', padding: 7, callback: (v: number) => label(v) },
            },
          },
        } as any,
        plugins: [barPlugin(cm, q), framePlugin(2.5, false)],
      } as any);
    charts.push(bar(cbRef.current!, -10, 10, 2.5, (v) => (v === 10 ? '10<' : v === -10 ? '-10>' : String(v)), cmTemp, 0, 25, 28.3));
    charts.push(bar(dbRef.current!, 0, 30, 5, (v) => String(v), cmArea, .5, 23, 22.5));

    return () => charts.forEach((c) => c.destroy());
  }, []);

  const cv = (top: number, h: number, left = 0, w = 2067): React.CSSProperties => ({ position: 'absolute', left, top, width: w, height: h });

  return (
    <div style={{ position: 'relative', width: 2067, height: 1457, background: '#fff', overflow: 'hidden', fontFamily: FONT }}>
      <canvas ref={aRef} width={2067} height={525} style={cv(0, 525)} />
      <canvas ref={bRef} width={2067} height={230} style={cv(540, 230)} />
      <canvas ref={cRef} width={2067} height={320} style={cv(800, 320)} />
      <canvas ref={dRef} width={2067} height={307} style={cv(1150, 307)} />
      <canvas ref={cbRef} width={167} height={300} style={cv(800, 300, 1900, 167)} />
      <canvas ref={dbRef} width={167} height={290} style={cv(1150, 290, 1900, 167)} />

      <T x={140} y={25}>x 10<S size="0.72em">14</S></T>
      <T x={239} y={18} size={32}>(a)</T>
      <T x={994} y={12} size={30.8}>mean OClO SCD at 89°&lt;SZA&lt;90°</T>
      <T x={22} y={264} rot={-90} size={30.2}>OClO SCD (cm<S>-2</S>)</T>

      <T x={239} y={572} size={32}>(b)</T>
      <T x={991} y={562} size={30}>Latitude bounds of 89<S>o</S>&lt;SZA&lt;90<S>o</S> region</T>
      <T x={29} y={661} rot={-90}>Latitude (<S>o</S>)</T>
      <T x={1957} y={660} rot={-90}>PV area</T>
      <T x={1996} y={660} rot={-90}>(10<S>7</S> km<S>2</S>)</T>

      <T x={239} y={801} size={32}>(c)</T>
      <T x={992} y={782} size={31.5}>Stratospheric T - T<B>NAT</B></T>
      <T x={21} y={951} rot={-90} size={30}>Pot. T (K)</T>
      <T x={2045} y={949} rot={-90} size={30}>T<B>min</B>-T<B>NAT</B> (K)</T>

      <T x={239} y={1148} size={32}>(d)</T>
      <T x={992} y={1129} size={31.5}>Area with T &lt; T<B>NAT</B></T>
      <T x={21} y={1298} rot={-90} size={30}>Pot. T (K)</T>
      <T x={2023} y={1296} rot={-90} size={31}>T<B>NAT</B> area (10<S>6</S>km<S>2</S>)</T>

      <div style={{ position: 'absolute', left: 111.5, top: 54, width: 357, height: 120, background: '#fff', border: '1px solid #8c8c8c', boxSizing: 'border-box' }} />
      <LegLine x={123} y={76} w={54} color="#0000ff" dot />
      <LegLine x={123} y={114} w={54} color="#007f00" dot />
      <LegLine x={123} y={152} w={54} color="#ff0000" dot />
      <Lt x={183} y={77}>mean</Lt>
      <Lt x={183} y={115}>mean (PV&lt;-35PVU)</Lt>
      <Lt x={183} y={153}>max (error corrected)</Lt>

      <div style={{ position: 'absolute', left: 595.5, top: 676.7, width: 578, height: 45.5, background: '#fff', border: '1px solid #8c8c8c', boxSizing: 'border-box' }} />
      <LegLine x={607} y={700} w={53} color="#0000ff" />
      <LegLine x={724} y={700} w={54} color="#007f00" />
      <LegLine x={851} y={700} w={54} color="#ff0000" />
      <LegLine x={996} y={700} w={54} color="#000" />
      <Lt x={667} y={701}>min</Lt>
      <Lt x={786} y={701}>max</Lt>
      <Lt x={913} y={701}>mean</Lt>
      <Lt x={1057} y={701}>PV area</Lt>
    </div>
  );
}

function T({ x, y, rot, size, children }: any) {
  return (
    <div style={{ position: 'absolute', left: x, top: y, transform: `translate(-50%,-50%) rotate(${rot || 0}deg)`, whiteSpace: 'nowrap', fontSize: size || 29, lineHeight: 1, color: '#000' }}>
      {children}
    </div>
  );
}
function Lt({ x, y, children }: any) {
  return (
    <div style={{ position: 'absolute', left: x, top: y, transform: 'translateY(-50%)', whiteSpace: 'nowrap', fontSize: 29.5, lineHeight: 1, color: '#000' }}>
      {children}
    </div>
  );
}
function S({ size, children }: any) {
  return <sup style={{ fontSize: size || '0.65em', lineHeight: 0, verticalAlign: '0.55em' }}>{children}</sup>;
}
function B({ children }: any) {
  return <sub style={{ fontSize: '0.75em', lineHeight: 0, verticalAlign: '-0.4em' }}>{children}</sub>;
}
function LegLine({ x, y, w, color, dot }: any) {
  return (
    <>
      <div style={{ position: 'absolute', left: x, top: y - 1.25, width: w, height: 2.5, background: color }} />
      {dot ? <div style={{ position: 'absolute', left: x + w / 2 - 3, top: y - 3, width: 6, height: 6, borderRadius: '50%', background: color }} /> : null}
    </>
  );
}

export default App;
